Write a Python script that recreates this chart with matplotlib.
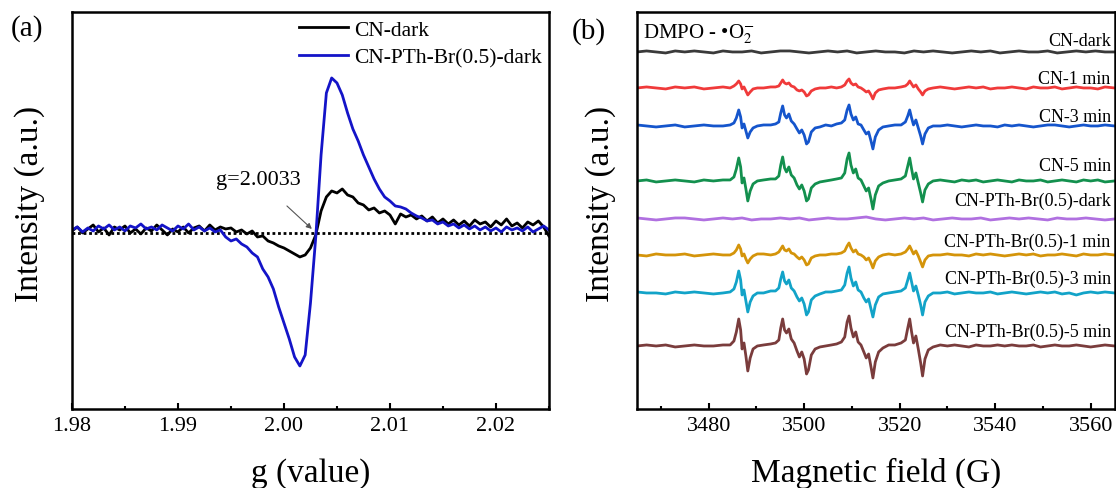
import numpy as np
import matplotlib
matplotlib.use("Agg")
import matplotlib.pyplot as plt
from matplotlib.ticker import MultipleLocator, FormatStrFormatter

plt.rcParams["font.family"] = ["Liberation Serif", "DejaVu Serif"]
plt.rcParams["mathtext.fontset"] = "stix"

# ---------------- panel (a): EPR in the dark ----------------
g_values = np.round(np.arange(1.980, 2.02501, 0.0005), 4)

cn_dark_a = [
    2, 6, 0, 4, 8, 1, 5, -2, 6, 3,
    7, 0, 4, -1, 5, 2, 8, 3, -2, 4,
    1, 6, 0, 5, 7, 2, 8, 3, 6, 4,
    5, 1, 3, -1, 2, -4, -3, -8, -10, -13,
    -15, -18, -21, -24, -22, -15, -2, 22, 36, 42,
    40, 44, 38, 36, 30, 28, 23, 25, 20, 22,
    18, 9, 19, 16, 18, 14, 17, 12, 16, 10,
    14, 9, 13, 8, 12, 7, 13, 9, 11, 6,
    12, 8, 14, 7, 10, 5, 11, 8, 12, 6, -3,
]
pth_dark_a = [
    3, 6, 1, 5, 2, 7, 4, 8, 3, 6,
    2, 7, 5, 9, 4, 6, 3, 8, 5, 2,
    7, 4, 9, 3, 6, 2, 5, 1, 3, -4,
    -8, -6, -11, -14, -20, -24, -36, -44, -56, -74,
    -90, -106, -124, -133, -122, -70, -4, 78, 140, 155,
    150, 138, 120, 104, 92, 78, 66, 54, 44, 36,
    32, 27, 26, 24, 20, 17, 15, 12, 13, 9,
    11, 7, 9, 5, 8, 4, 7, 3, 6, 2,
    5, 1, 6, 3, 5, 2, 6, 1, 4, 7, 3,
]
labels_a = ["CN-dark", "CN-PTh-Br(0.5)-dark"]

# ---------------- panel (b): DMPO-O2 spin trapping ----------------
field = [
    3465, 3467, 3469, 3471, 3473, 3475, 3477, 3479, 3481, 3483,
    3484.5, 3485.3, 3485.8, 3486.3, 3486.7, 3487.0, 3487.4, 3487.8, 3488.2, 3488.7, 3489.3, 3490.2,
    3491.5, 3493.0, 3494.0, 3494.7,
    3495.1, 3495.5, 3495.9, 3496.3, 3496.8, 3497.3, 3497.9, 3498.5, 3499.0, 3499.5, 3500.0, 3500.5,
    3500.9, 3501.5, 3502.3, 3503.3,
    3504.5, 3505.7, 3506.8, 3507.8, 3508.5,
    3509.0, 3509.4, 3509.8, 3510.3, 3510.8, 3511.3, 3511.9, 3512.5, 3513.0, 3513.5, 3514.0, 3514.4,
    3514.9, 3515.6, 3516.5,
    3517.7, 3519.0, 3520.3, 3521.2,
    3521.7, 3522.1, 3522.5, 3522.9, 3523.4, 3523.9, 3524.4, 3524.8, 3525.3, 3526.0, 3527.0,
    3528.5, 3530, 3531.5, 3533, 3534.5, 3536, 3537.5, 3539, 3540.5, 3542, 3543.5, 3545, 3546.5,
    3548, 3549.5, 3551, 3552.5, 3554, 3555.5, 3557, 3558.5, 3560, 3561.5, 3563, 3565,
]
field_dark = np.arange(3465, 3566, 2)

cn_dark_b = [
    0, 1, 0, -1, 1, 0, 1, 0, -1, 1,
    0, 0, 1, -1, 0, 1, 1, 0, -1, 0,
    1, 0, 1, -1, 0, 1, 0, 0, -1, 1,
    0, 1, 0, -1, 0, 1, 0, 1, -1, 0,
    1, 0, 0, 1, -1, 0, 1, 0, 1, 0, 0,
]
cn_1min = [
    0, 1, 0, -1, 1, 0, 1, -1, 0, 1,
    0, 2, 4, 7, 4, -1, 1, -3, -7, -4, -1, 0,
    0, 1, 1, 2,
    5, 8, 5, 4, 5, 2, 1, -2, -3, -2, -4, -8, -7, -3, -1, 0,
    0, 1, 0, 1, 3,
    7, 9, 5, 3, 4, 1, 0, -2, -4, -3, -7, -11, -5, -2, -1,
    0, 0, 1, 2,
    4, 7, 4, 1, 3, -1, -4, -7, -3, -1, 0,
    1, 0, -1, 0, 1, 0, 1, -1, 0, 0, 1, 0, -1, 1, 0, 0, 1, -1, 0, 1, 0, 0, -1, 1, 0,
]
cn_3min = [
    1, 0, -1, 0, 1, -1, 0, 1, 0, 0,
    1, 3, 8, 16, 9, -2, 2, -5, -12, -6, -2, 0,
    1, 1, 2, 4,
    13, 20, 11, 8, 12, 5, 2, -3, -7, -4, -9, -18, -16, -6, -2, -1,
    1, 0, 2, 3, 6,
    16, 21, 12, 6, 9, 2, 1, -4, -8, -6, -15, -23, -11, -4, -1,
    0, 1, 1, 4,
    10, 16, 8, 1, 6, -2, -10, -18, -8, -2, 0,
    0, 1, 0, -1, 0, 1, 0, 0, -1, 1, 0, 1, 0, -1, 0, 1, 1, 0, -1, 0, 1, 0, 0, 1, 0,
]
cn_5min = [
    0, 1, -1, 0, 1, 0, -1, 1, 0, 1,
    1, 4, 12, 23, 14, -2, 3, -8, -20, -10, -3, 0,
    1, 2, 2, 5,
    16, 24, 13, 9, 14, 6, 3, -4, -8, -4, -10, -20, -18, -7, -3, -1,
    0, 1, 2, 3, 8,
    22, 28, 16, 8, 12, 3, 1, -5, -10, -7, -18, -28, -14, -5, -2,
    0, 1, 2, 5,
    15, 23, 12, 2, 8, -2, -12, -21, -9, -3, 0,
    1, 0, -1, 1, 0, 1, -1, 0, 1, 0, -1, 1, 0, 0, 1, -1, 0, 1, 0, -1, 1, 0, 1, -1, 0,
]
pth_dark_b = [
    1, 0, -1, 0, 1, 1, 0, -1, 0, 1,
    0, 1, -1, 0, 0, 1, 0, 1, -1, 0,
    1, 0, 0, 1, 2, 0, -1, 0, 1, 0,
    1, -1, 0, 1, 0, 0, 1, -1, 0, 1,
    0, 1, 0, -1, 1, 0, 0, 1, 0, -1, 0,
]
pth_1min = [
    0, -1, 1, 0, 0, 1, -1, 0, 1, 0,
    0, 2, 5, 10, 6, -1, 1, -4, -8, -4, -1, 1,
    1, 0, 1, 3,
    6, 9, 5, 4, 6, 2, 1, -2, -4, -2, -5, -10, -9, -3, -1, 0,
    0, 1, 1, 2, 4,
    9, 12, 7, 3, 5, 1, 0, -2, -5, -3, -8, -13, -6, -2, 0,
    1, 0, 1, 3,
    6, 9, 5, 1, 4, -1, -7, -12, -5, -1, 0,
    0, 1, 0, 0, -1, 1, 0, 1, 0, -1, 0, 1, 0, 1, -1, 0, 0, 1, 0, -1, 1, 0, 0, 1, 0,
]
pth_3min = [
    1, 0, 0, -1, 1, 0, 1, 0, -1, 0,
    1, 4, 11, 22, 13, -2, 3, -8, -19, -9, -3, 0,
    0, 2, 2, 5,
    14, 21, 12, 9, 13, 5, 2, -4, -8, -5, -11, -22, -19, -7, -3, -1,
    1, 1, 2, 3, 8,
    20, 26, 15, 7, 11, 3, 1, -5, -9, -6, -16, -24, -12, -4, -1,
    0, 1, 2, 5,
    13, 20, 11, 2, 7, -2, -12, -22, -9, -3, 0,
    0, 1, -1, 0, 1, 0, 0, 1, -1, 0, 1, 0, -1, 0, 1, 0, 1, -1, 0, -2, 0, 1, 0, 1, 0,
]
pth_5min = [
    0, 1, 0, 1, -1, 0, 1, 0, 0, 1,
    1, 5, 14, 27, 16, -3, 3, -10, -25, -12, -3, 0,
    1, 2, 3, 6,
    18, 27, 16, 13, 17, 7, 3, -5, -11, -6, -13, -28, -24, -9, -3, -1,
    0, 1, 2, 4, 9,
    24, 30, 18, 9, 14, 4, 1, -6, -12, -8, -21, -32, -16, -6, -2,
    1, 1, 3, 6,
    18, 27, 14, 3, 10, -3, -17, -30, -13, -4, -1,
    1, 0, 1, 0, -1, 1, 0, 0, 1, 0, 1, 0, 0, 1, -1, 0, 1, 0, 0, 1, 0, -1, 0, 1, 0,
]

labels_b = ["CN-dark", "CN-1 min", "CN-3 min", "CN-5 min",
            "CN-PTh-Br(0.5)-dark", "CN-PTh-Br(0.5)-1 min",
            "CN-PTh-Br(0.5)-3 min", "CN-PTh-Br(0.5)-5 min"]
series_b = [cn_dark_b, cn_1min, cn_3min, cn_5min,
            pth_dark_b, pth_1min, pth_3min, pth_5min]
colors_b = ["#3a3a3a", "#f03a3a", "#1555cc", "#13904e",
            "#b070e0", "#d4940a", "#12a3c8", "#7a3c3c"]
# vertical stacking offsets and label heights above each trace
offsets = [357, 321, 283, 228, 190, 154, 116, 63]
label_gap = [11, 9, 9, 15, 19, 14, 15, 15]

fig = plt.figure(figsize=(11.16, 4.89), dpi=100)
ax1 = fig.add_axes([0.0645, 0.1616, 0.4274, 0.8119])
ax2 = fig.add_axes([0.5708, 0.1616, 0.4279, 0.8119])

# panel (a)
ax1.axhline(0, color="black", linestyle=(0, (1, 1)), linewidth=2)
ax1.plot(g_values, cn_dark_a, color="black", linewidth=2.0, label=labels_a[0])
ax1.plot(g_values, pth_dark_a, color="#1414c8", linewidth=2.0, label=labels_a[1])
ax1.set_xlim(1.98, 2.025)
ax1.set_ylim(-176, 221)
ax1.xaxis.set_major_locator(MultipleLocator(0.01))
ax1.xaxis.set_minor_locator(MultipleLocator(0.005))
ax1.xaxis.set_major_formatter(FormatStrFormatter("%.2f"))
ax1.legend(loc="upper right", bbox_to_anchor=(1.0, 1.0), frameon=False,
           fontsize=15.5, handlelength=2.3, handletextpad=0.25,
           labelspacing=0.35, borderpad=0.25, borderaxespad=0.1)
ax1.text(2.0016, 53, "g=2.0033", fontsize=16, ha="right", va="center")
ax1.annotate("", xy=(2.00263, 4), xytext=(2.00028, 27),
             arrowprops=dict(arrowstyle="-|>", color="#555555", lw=0.8,
                             mutation_scale=8, shrinkA=0, shrinkB=0))

# panel (b)
for vals, lab, col, off, gap in zip(series_b, labels_b, colors_b, offsets, label_gap):
    x = field_dark if len(vals) == len(field_dark) else field
    ax2.plot(x, np.array(vals) + off, color=col, linewidth=2.0)
    ax2.text(3564.2, off + gap, lab, fontsize=13, ha="right", va="center")
ax2.set_xlim(3465, 3565)
ax2.set_ylim(0, 397)
ax2.xaxis.set_major_locator(MultipleLocator(20))
ax2.xaxis.set_minor_locator(MultipleLocator(10))
ax2.text(0.012, 0.975, "DMPO - •O$_2^{-}$", transform=ax2.transAxes,
         fontsize=15, ha="left", va="top")

for ax, xlab in [(ax1, "g (value)"), (ax2, "Magnetic field (G)")]:
    for s in ax.spines.values():
        s.set_linewidth(1.8)
    ax.tick_params(axis="x", which="major", direction="in", length=4.5, width=1.5,
                   labelsize=16, pad=5, top=False)
    ax.tick_params(axis="x", which="minor", direction="in", length=2.2, width=1.5, top=False)
    ax.tick_params(axis="y", which="both", left=False, right=False, labelleft=False)
    ax.set_xlabel(xlab, fontsize=24, va="baseline")
    ax.xaxis.set_label_coords(0.5, -0.182)
    ax.set_ylabel("Intensity (a.u.)", fontsize=24, va="center")

ax1.yaxis.set_label_coords(-0.088, 0.519)
ax2.yaxis.set_label_coords(-0.077, 0.519)

fig.text(27 / 1116, 1 - 29 / 489, "(a)", fontsize=21, ha="center", va="center")
fig.text(589 / 1116, 1 - 32 / 489, "(b)", fontsize=21, ha="center", va="center")

plt.savefig("out.png", dpi=100)
